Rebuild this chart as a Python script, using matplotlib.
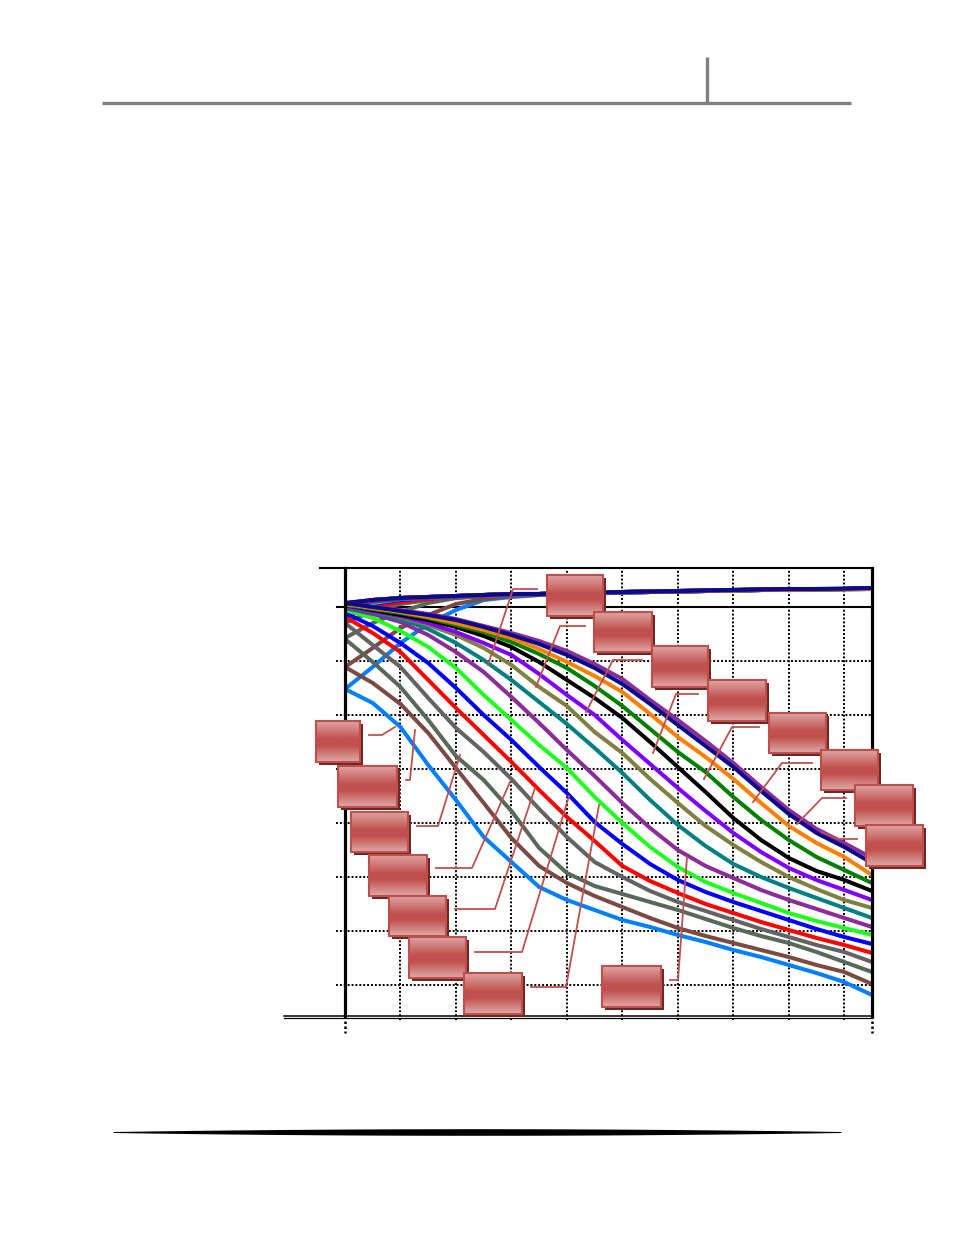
import matplotlib
matplotlib.use("Agg")
import matplotlib.pyplot as plt
import matplotlib.transforms as mtransforms
from matplotlib.patches import Rectangle
from matplotlib.colors import LinearSegmentedColormap
import numpy as np

W, H = 954, 1235

# ---------------- data (x in grid divisions, y in dB) ----------------
freq = [0, 0.5, 1, 1.5, 2, 2.5, 3, 3.5, 4, 4.5, 5, 5.5, 6, 6.5, 7, 7.5, 8, 8.5, 9, 9.5]

# descending curves
lightblue_low = [-8.2, -9.6, -12.0, -15.8, -19.3, -23.0, -25.5, -28.0, -29.3, -30.3, -31.3, -32.0, -32.8, -33.5, -34.3, -35.0, -35.8, -36.6, -37.5, -38.8]
brown_low     = [-6.0, -7.6, -9.7, -12.6, -16.1, -19.6, -23.1, -25.9, -27.6, -28.9, -30.0, -31.1, -32.1, -32.9, -33.6, -34.3, -35.0, -35.8, -36.5, -37.7]
graygreen_low = [-3.2, -5.5, -8.0, -11.3, -14.9, -17.3, -20.4, -24.1, -26.6, -27.9, -28.7, -29.5, -30.3, -31.2, -32.1, -32.9, -33.6, -34.5, -35.5, -36.5]
gray_low      = [-1.6, -3.8, -6.0, -9.1, -12.1, -14.5, -17.2, -20.2, -23.0, -25.5, -27.0, -28.4, -29.5, -30.4, -31.3, -32.2, -33.0, -33.8, -34.5, -35.5]
red_low       = [-1.0, -2.6, -4.5, -7.3, -10.1, -12.8, -15.5, -18.3, -21.0, -23.4, -25.9, -27.4, -28.6, -29.7, -30.6, -31.5, -32.3, -33.1, -33.8, -34.6]
blue_low      = [-0.6, -1.9, -3.6, -5.6, -8.1, -10.8, -13.3, -16.0, -18.6, -21.5, -23.7, -25.7, -27.3, -28.5, -29.5, -30.4, -31.3, -32.2, -33.0, -33.7]
lime_low      = [-0.3, -1.1, -2.4, -4.0, -6.1, -8.8, -11.3, -13.8, -16.1, -19.0, -21.6, -24.0, -26.0, -27.5, -28.6, -29.6, -30.6, -31.4, -32.1, -32.8]
plum_low      = [-0.1, -0.7, -1.5, -2.8, -4.5, -6.5, -9.0, -11.6, -14.3, -16.9, -19.6, -22.1, -24.3, -25.9, -27.1, -28.3, -29.3, -30.2, -31.1, -32.0]
teal_low      = [0.0, -0.5, -1.2, -2.2, -3.6, -5.3, -7.3, -9.5, -11.7, -14.1, -16.6, -19.3, -21.8, -23.9, -25.7, -27.0, -28.1, -29.1, -30.1, -31.1]
olive_low     = [0.1, -0.4, -1.0, -1.8, -2.8, -4.1, -5.8, -8.0, -9.9, -12.5, -14.6, -17.2, -19.6, -21.9, -23.8, -25.5, -27.0, -28.2, -29.3, -30.1]
violet_low    = [0.1, -0.4, -0.9, -1.6, -2.5, -3.6, -4.8, -6.7, -8.8, -10.8, -13.3, -15.7, -18.1, -20.4, -22.6, -24.5, -26.1, -27.3, -28.3, -29.3]
black_low     = [0.2, -0.3, -0.8, -1.3, -2.0, -2.9, -4.0, -5.5, -7.3, -9.1, -11.1, -13.5, -16.0, -18.5, -21.1, -23.3, -25.1, -26.4, -27.3, -28.4]
green_low     = [0.2, -0.2, -0.6, -1.1, -1.8, -2.5, -3.5, -4.7, -6.1, -7.9, -9.9, -12.2, -14.5, -16.5, -19.0, -21.3, -23.3, -25.0, -26.3, -27.6]
orange_low    = [0.3, -0.1, -0.5, -1.0, -1.6, -2.3, -3.1, -4.2, -5.5, -6.9, -8.5, -10.7, -13.0, -15.0, -17.2, -19.6, -21.9, -23.6, -25.0, -26.8]
purple_low    = [0.4, 0.0, -0.3, -0.7, -1.2, -1.9, -2.6, -3.4, -4.4, -5.7, -7.2, -9.3, -11.3, -13.4, -15.6, -18.0, -20.3, -22.2, -23.6, -25.1]
navy_low      = [0.4, 0.0, -0.4, -0.8, -1.3, -2.0, -2.8, -3.7, -4.8, -6.1, -7.7, -9.7, -11.8, -13.9, -16.0, -18.4, -20.7, -22.6, -24.0, -25.6]

# rising curves
lightblue_up = [-8.2, -6.0, -3.6, -1.7, -0.3, 0.7, 1.0, 1.2, 1.3, 1.4, 1.45, 1.5, 1.55, 1.6, 1.65, 1.7, 1.75, 1.75, 1.8, 1.85]
brown_up     = [-6.0, -4.1, -2.1, -0.8, 0.3, 0.8, 1.1, 1.2, 1.3, 1.4, 1.45, 1.5, 1.55, 1.6, 1.65, 1.7, 1.75, 1.75, 1.8, 1.85]
graygreen_up = [-3.1, -1.6, -0.5, 0.4, 0.9, 1.1, 1.2, 1.3, 1.35, 1.4, 1.45, 1.5, 1.55, 1.6, 1.65, 1.7, 1.75, 1.75, 1.8, 1.85]
gray_up      = [-1.6, -0.4, 0.3, 0.7, 0.9, 1.1, 1.2, 1.3, 1.35, 1.4, 1.45, 1.5, 1.55, 1.6, 1.65, 1.7, 1.75, 1.75, 1.8, 1.85]
red_up       = [-1.0, 0.0, 0.5, 0.8, 1.0, 1.1, 1.2, 1.3, 1.35, 1.4, 1.45, 1.5, 1.55, 1.6, 1.65, 1.7, 1.75, 1.75, 1.8, 1.85]
blue_up      = [-0.6, 0.3, 0.7, 0.9, 1.0, 1.1, 1.2, 1.3, 1.35, 1.4, 1.45, 1.5, 1.55, 1.6, 1.65, 1.7, 1.75, 1.75, 1.8, 1.85]
lime_up      = [-0.3, 0.4, 0.8, 0.9, 1.0, 1.1, 1.2, 1.3, 1.35, 1.4, 1.45, 1.5, 1.55, 1.6, 1.65, 1.7, 1.75, 1.75, 1.8, 1.85]
plum_up      = [-0.1, 0.5, 0.8, 0.9, 1.0, 1.1, 1.2, 1.3, 1.35, 1.4, 1.45, 1.5, 1.55, 1.6, 1.65, 1.7, 1.75, 1.75, 1.8, 1.85]
teal_up      = [0.0, 0.6, 0.8, 1.0, 1.1, 1.2, 1.3, 1.3, 1.4, 1.45, 1.5, 1.55, 1.6, 1.65, 1.7, 1.75, 1.75, 1.8, 1.8, 1.85]
olive_up     = [0.1, 0.6, 0.9, 1.0, 1.1, 1.2, 1.3, 1.3, 1.4, 1.45, 1.5, 1.55, 1.6, 1.65, 1.7, 1.75, 1.75, 1.8, 1.8, 1.85]
violet_up    = [0.1, 0.6, 0.9, 1.0, 1.1, 1.2, 1.3, 1.3, 1.4, 1.45, 1.5, 1.55, 1.6, 1.65, 1.7, 1.75, 1.75, 1.8, 1.8, 1.85]
black_up     = [0.2, 0.7, 0.9, 1.0, 1.1, 1.2, 1.3, 1.3, 1.4, 1.45, 1.5, 1.55, 1.6, 1.65, 1.7, 1.75, 1.75, 1.8, 1.8, 1.85]
green_up     = [0.2, 0.7, 0.9, 1.0, 1.1, 1.2, 1.3, 1.3, 1.4, 1.45, 1.5, 1.55, 1.6, 1.6, 1.65, 1.7, 1.7, 1.75, 1.75, 1.8]
orange_up    = [0.3, 0.7, 0.9, 1.0, 1.1, 1.2, 1.3, 1.3, 1.4, 1.45, 1.5, 1.55, 1.6, 1.6, 1.65, 1.7, 1.7, 1.75, 1.75, 1.8]
purple_up    = [0.4, 0.7, 0.9, 1.0, 1.1, 1.2, 1.3, 1.3, 1.4, 1.45, 1.5, 1.55, 1.6, 1.65, 1.7, 1.75, 1.75, 1.8, 1.8, 1.9]
navy_up      = [0.4, 0.7, 0.9, 1.0, 1.1, 1.2, 1.3, 1.3, 1.4, 1.45, 1.5, 1.55, 1.6, 1.65, 1.7, 1.75, 1.8, 1.8, 1.85, 1.9]

series = [
    (lightblue_low, lightblue_up, "#0080ff"),
    (brown_low, brown_up, "#7b4a43"),
    (graygreen_low, graygreen_up, "#596959"),
    (gray_low, gray_up, "#636363"),
    (red_low, red_up, "#ff0000"),
    (blue_low, blue_up, "#0000ff"),
    (lime_low, lime_up, "#1eff1e"),
    (plum_low, plum_up, "#8b2c99"),
    (teal_low, teal_up, "#008080"),
    (olive_low, olive_up, "#808040"),
    (violet_low, violet_up, "#8000ff"),
    (black_low, black_up, "#000000"),
    (green_low, green_up, "#008000"),
    (orange_low, orange_up, "#ff8000"),
    (purple_low, purple_up, "#8b2c99"),
    (navy_low, navy_up, "#0a0a8c"),
]

xgrid = [1, 2, 3, 4, 5, 6, 7, 8, 9]
ygrid = [-5.4, -10.8, -16.2, -21.6, -27.0, -32.4, -37.8]
x_range = (0, 9.5)
y_range = (-40.9, 3.9)

# ---------------- figure ----------------
fig = plt.figure(figsize=(W / 100, H / 100), dpi=100)
fig.patch.set_facecolor("white")

ax = fig.add_axes([345 / W, 1 - 1016 / H, 527 / W, 448 / H])
ax.set_xlim(*x_range)
ax.set_ylim(*y_range)
ax.set_xticks([])
ax.set_yticks([])
for s in ax.spines.values():
    s.set_visible(False)

blend_y = mtransforms.blended_transform_factory(ax.transAxes, ax.transData)
blend_x = mtransforms.blended_transform_factory(ax.transData, ax.transAxes)

dot = (0, (1, 1))
for gx in xgrid:
    ax.plot([gx, gx], [-0.008, 1], transform=blend_x, color="black", lw=1.4,
            ls=dot, clip_on=False, zorder=1)
for gy in ygrid:
    ax.plot([-0.017, 1], [gy, gy], transform=blend_y, color="black", lw=1.4,
            ls=dot, clip_on=False, zorder=1)
# 0 dB reference line
ax.plot([-0.0152, 1], [0, 0], transform=blend_y, color="black", lw=1.5,
        clip_on=False, zorder=1)

for low, up, c in series:
    ax.plot(freq, up, color=c, lw=2.9, solid_joinstyle="round", zorder=3)
for low, up, c in series:
    ax.plot(freq, low, color=c, lw=2.9, solid_joinstyle="round", zorder=3)

# frame
ax.plot([-0.0474, 1], [1, 1], transform=ax.transAxes, color="black", lw=1.5,
        clip_on=False, zorder=4)
ax.plot([-0.1157, 1], [0, 0], transform=ax.transAxes, color="black", lw=1.1,
        clip_on=False, zorder=4)
ax.plot([-0.1157, 1], [-0.0035, -0.0035], transform=ax.transAxes, color="black",
        lw=0.9, clip_on=False, zorder=4)
ax.plot([0, 0], [0, 1], transform=ax.transAxes, color="black", lw=2.3,
        clip_on=False, zorder=4)
ax.plot([1, 1], [0, 1], transform=ax.transAxes, color="black", lw=2.3,
        clip_on=False, zorder=4)
for bx in x_range:
    ax.plot([bx, bx], [0, -0.038], transform=blend_x, color="black", lw=1.8,
            ls=dot, clip_on=False, zorder=4)

# ---------------- overlay: callout boxes, leaders, page decoration ----------------
ov = fig.add_axes([0, 0, 1, 1])
ov.set_xlim(0, W)
ov.set_ylim(H, 0)
ov.axis("off")
ov.patch.set_alpha(0)
ov.set_zorder(5)

leaders = [
    [(537, 589), (513, 589), (488, 665)],
    [(585, 626), (560, 626), (536, 687)],
    [(642, 660), (613, 660), (586, 712)],
    [(698, 694), (676, 694), (653, 753)],
    [(759, 727), (732, 727), (704, 779)],
    [(812, 763), (782, 763), (753, 802)],
    [(846, 798), (822, 798), (797, 824)],
    [(857, 839), (838, 839), (821, 832)],
    [(369, 735), (382, 735), (395, 727)],
    [(406, 780), (410, 780), (415, 730)],
    [(417, 826), (438, 826), (460, 755)],
    [(436, 868), (472, 868), (510, 782)],
    [(455, 909), (495, 909), (535, 788)],
    [(475, 952), (522, 952), (569, 796)],
    [(531, 987), (566, 987), (599, 805)],
    [(670, 980), (678, 980), (687, 857)],
]
for pts in leaders:
    xs = [p[0] for p in pts]
    ys = [p[1] for p in pts]
    ov.plot(xs, ys, color="#c0504d", lw=1.3, zorder=1)

boxes = [
    (547, 575, 603, 616), (594, 612, 652, 652), (652, 646, 708, 687),
    (708, 680, 766, 721), (769, 713, 826, 753), (821, 750, 878, 790),
    (855, 785, 913, 826), (866, 825, 923, 866),
    (316, 721, 360, 762), (338, 766, 397, 807), (351, 812, 408, 852),
    (369, 855, 427, 896), (389, 896, 446, 936), (409, 937, 466, 978),
    (464, 973, 522, 1014), (602, 966, 661, 1007),
]
cmap = LinearSegmentedColormap.from_list(
    "boxgrad", [(0.0, "#dea4a2"), (0.45, "#c0504d"), (0.6, "#c0504d"), (1.0, "#dfa9a7")])
grad = np.linspace(0, 1, 64).reshape(-1, 1)
z = 2
for (x0, y0, x1, y1) in boxes:
    ov.add_patch(Rectangle((x0 + 3, y0 + 3), x1 - x0, y1 - y0, facecolor="#6b2826",
                           edgecolor="none", zorder=z))
    ov.imshow(grad, cmap=cmap, aspect="auto", extent=(x0, x1, y1, y0),
              origin="upper", interpolation="bilinear", zorder=z + 0.1)
    ov.add_patch(Rectangle((x0, y0), x1 - x0, y1 - y0, facecolor="none",
                           edgecolor="#bf4f4c", lw=1.5, zorder=z + 0.2))
    z += 1

# header rule
ov.plot([102, 851], [103, 103], color="#808080", lw=2.4, solid_capstyle="butt", zorder=1)
ov.plot([707, 707], [57, 103], color="#808080", lw=2.4, solid_capstyle="butt", zorder=1)

# footer tapered rule
fx = np.linspace(113, 841, 400)
c, hw = 477, 364
half = 0.5 + 2.8 * np.clip(1 - ((fx - c) / hw) ** 2, 0, None)
ov.fill_between(fx, 1132 - half, 1132 + half, color="black", lw=0, zorder=1)

ov.set_xlim(0, W)
ov.set_ylim(H, 0)

fig.savefig("out.png", dpi=100, facecolor="white")
